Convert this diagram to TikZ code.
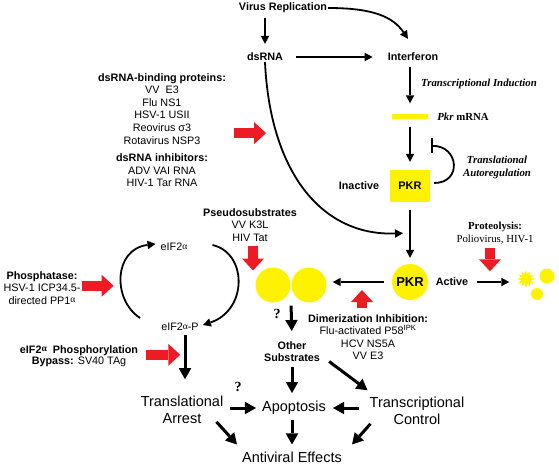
\documentclass[tikz,border=0pt]{standalone}
\usepackage{fontspec}
\setmainfont{Liberation Sans}
\newfontfamily\timesfont{Liberation Serif}
\usetikzlibrary{arrows.meta,calc,shapes.geometric}

\definecolor{pkryellow}{RGB}{255,242,0}
\definecolor{blockred}{RGB}{237,28,36}

% small raised alpha as in the figure
\newcommand{\alf}{{\timesfont\fontsize{9.5}{9.5}\selectfont\raisebox{1.5pt}{α}}}

\tikzset{
  lbl/.style={font=\bfseries\fontsize{10.8}{12.6}\selectfont, align=center, inner sep=1pt},
  txt/.style={font=\fontsize{10.8}{12.6}\selectfont, align=center, inner sep=1pt},
  big/.style={font=\fontsize{14.5}{16.5}\selectfont, align=center, inner sep=1pt},
  note/.style={font=\timesfont\bfseries\itshape\fontsize{10.8}{12.8}\selectfont, align=center, inner sep=1pt},
  serif/.style={font=\timesfont\fontsize{10.8}{13}\selectfont, align=center, inner sep=1pt},
  arr/.style={-{Triangle[length=8pt,width=8.5pt,line width=0pt]}, line width=1.8pt},
  bigarr/.style={-{Triangle[length=11pt,width=12.5pt,line width=0pt]}, line width=3pt},
  redarr/.style={blockred, line width=10pt, -{Triangle[length=12pt,width=22pt,line width=0pt]}},
  ball/.style={circle, fill=pkryellow, minimum size=35pt, inner sep=0pt},
  pkrbox/.style={rectangle, fill=pkryellow, minimum width=40pt, minimum height=32pt,
    font=\bfseries\fontsize{11}{12}\selectfont},
}

\begin{document}
\begin{tikzpicture}[x=1pt, y=-1pt]
	\useasboundingbox (0,0) rectangle (559,466);

	% interferon pathway
	\node[lbl] (virus) at (283,8) {Virus Replication};
	\node[lbl] (dsrna) at (265,57) {dsRNA};
	\node[lbl] (ifn) at (413,57) {Interferon};
	\node[note] (induct) at (479,84) {Transcriptional Induction};
	\node[fill=pkryellow, minimum width=36pt, minimum height=5pt, inner sep=0pt] (mrna) at (410,116) {};
	\node[note, font=\timesfont\bfseries\fontsize{10.8}{12}\selectfont] (mrnalbl) at (463,117) {\textit{Pkr} mRNA};
	\node[pkrbox] (pkr) at (410,186) {PKR};
	\node[lbl] (inactive) at (359,186) {Inactive};
	\node[note] (autoreg) at (497,167) {Translational\\Autoregulation};

	\draw[arr, shorten <=4pt, shorten >=8pt] (virus.south -| dsrna.north) -- (dsrna.north);
	\draw[arr, shorten <=12pt, shorten >=14pt] (dsrna.east) -- (ifn.west);
	\draw[arr] (virus.east) .. controls +(45,0) and +(-15,-22) .. ($(ifn.north)+(-5,-13)$);
	\draw[arr, shorten <=5pt, shorten >=10pt] (ifn.south -| mrna.north) -- (mrna.north);
	\draw[arr, shorten <=8pt, shorten >=8pt] (mrna.south) -- (pkr.north);
	\draw[line width=1.8pt, -{Bar[width=15pt]}] ($(pkr.east)+(4,-3)$)
		.. controls +(28,0) and +(28,0) .. ($(pkr.north east)+(1,-24)$);

	% activation
	\node[ball, minimum size=36pt, font=\bfseries\fontsize{13}{14}\selectfont] (pkra) at (410,282) {PKR};
	\node[lbl] (active) at (452,282) {Active};
	\coordinate (join) at ($(pkr.south)!0.5!(pkra.north)$);
	\draw[arr, shorten <=8pt, shorten >=6pt] (pkr.south) -- (pkra.north);
	\draw[arr, shorten >=7pt] (dsrna.south) .. controls (270,170) and (320,236) .. (join);

	% proteolysis
	\node[serif] (proteo) at (495,233) {\textbf{Proteolysis:}\\Poliovirus, HIV-1};
	\node[star, star points=12, star point ratio=1.8, fill=pkryellow, minimum size=18pt, inner sep=0pt] (burst) at (526,279) {};
	\node[circle, fill=pkryellow, minimum size=15pt, inner sep=0pt] (frag1) at (547,276) {};
	\node[circle, fill=pkryellow, minimum size=12pt, inner sep=0pt] (frag2) at (537,294) {};
	\draw[arr, shorten <=8pt, shorten >=7pt] (active.east) -- (active.east -| burst.west);
	\draw[redarr] ($(proteo.south)+(-5,3)$) -- ++(0,23);

	% dimer
	\node[ball] (dimA) at (273,285) {};
	\node[ball] (dimB) at (309,285) {};
	\draw[arr, shorten <=8pt, shorten >=6pt] (pkra.west) -- (pkra.west -| dimB.east);

	\node[lbl, anchor=north] (pseudo) at (250,207) {Pseudosubstrates\\\mdseries VV K3L\\\mdseries HIV Tat};
	\draw[redarr] ($(pseudo.south)+(3,3)$) -- ++(0,25);

	\node[txt, anchor=north] (dimer) at (368,313) {\textbf{Dimerization Inhibition:}\\Flu-activated P58\textsuperscript{IPK}\\HCV NS5A\\VV E3};
	\draw[redarr] ($(dimer.north)+(-6,-5)$) -- ++(0,-18);

	% inhibitors of dsRNA
	\node[txt, anchor=north] (binding) at (162,72) {\textbf{dsRNA-binding proteins:}\\VV\ \ E3\\Flu NS1\\HSV-1 USII\\Reovirus σ3\\Rotavirus NSP3\\[5pt]\textbf{dsRNA inhibitors:}\\ADV VAI RNA\\HIV-1 Tar RNA};
	\draw[redarr] ($(binding.east)+(7,3)$) -- ++(32,0);

	% eIF2 cycle
	\node[txt] (eif) at (174,247) {eIF2\alf};
	\node[txt] (eifp) at (180,327) {eIF2\alf-P};
	\draw[arr] ($(eifp.west)+(-20,-9)$) .. controls +(-28,-18) and +(-42,5) .. ($(eif.west)+(-4,-3)$);
	\draw[arr] ($(eif.east)+(24,-2)$) .. controls +(35,8) and +(45,-15) .. ($(eifp.east)+(3,-2)$);

	\node[txt, anchor=north] (phos) at (42,270) {\textbf{Phosphatase:}\\HSV-1 ICP34.5-\\directed PP1\alf};
	\draw[redarr] ($(phos.east)+(0,-2)$) -- ++(32,0);

	\node[txt, anchor=north] (bypass) at (79,344) {\textbf{eIF2\alf\ \ Phosphorylation}\\[-1.5pt]\textbf{Bypass:} SV40 TAg};
	\draw[redarr] ($(bypass.east)+(7,-1)$) -- ++(34,0);

	% downstream effects
	\node[lbl, anchor=north] (other) at (292,340) {Other\\Substrates};
	\node[big] (trans) at (182,410) {Translational\\Arrest};
	\node[big] (apop) at (294,408) {Apoptosis};
	\node[big] (tc) at (417,411) {Transcriptional\\Control};
	\node[big] (anti) at (292,457) {Antiviral Effects};
	\node[font=\timesfont\bfseries\fontsize{14}{14}\selectfont] (qa) at (277,314) {?};
	\node[font=\timesfont\bfseries\fontsize{14}{14}\selectfont] (qb) at (238,387) {?};

	\draw[bigarr, shorten <=3pt, shorten >=9pt] ($(dimA.south)!0.5!(dimB.south)$) -- (other.north);
	\draw[bigarr, shorten <=3pt, shorten >=16pt] (eifp.south -| 185,0) -- (trans.north -| 185,0);
	\draw[bigarr, shorten <=4pt, shorten >=7pt] (other.south) -- (other.south |- apop.north);
	\draw[bigarr] ($(other.east)+(8,10)$) -- ($(tc.north west)+(-1,-6)$);
	\draw[bigarr, shorten <=6pt, shorten >=5pt] (trans.east |- apop.west) -- (apop.west);
	\draw[bigarr, shorten <=10pt, shorten >=6pt] (tc.west |- apop.east) -- (apop.east);
	\draw[bigarr] ($(trans.south east)+(-8,-3)$) -- ($(anti.north west)+(-4,-6)$);
	\draw[bigarr] ($(tc.south west)+(2,-2)$) -- ($(anti.north east)+(9,-6)$);
	\draw[bigarr, shorten <=4pt, shorten >=6pt] (apop.south -| anti.north) -- (anti.north);
\end{tikzpicture}
\end{document}
